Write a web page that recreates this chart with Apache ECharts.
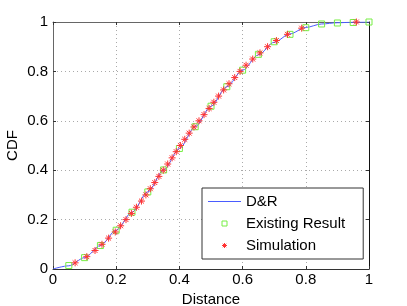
<!DOCTYPE html>
<html>
<head>
<meta charset="utf-8">
<script src="https://cdn.jsdelivr.net/npm/echarts@6/dist/echarts.min.js"></script>
<style>
html,body{margin:0;padding:0;background:#fff;}
#chart{width:407px;height:306px;}
</style>
</head>
<body>
<div id="chart"></div>
<script>
// D&R analytical curve
var drX   = [0, 0.05, 0.10, 0.15, 0.20, 0.25, 0.30, 0.35, 0.40, 0.45, 0.50, 0.55, 0.60, 0.65, 0.70, 0.75, 0.80, 0.85, 0.90, 0.95, 1.00];
var drCdf = [0, 0.013, 0.046, 0.095, 0.157, 0.230, 0.312, 0.400, 0.488, 0.576, 0.659, 0.738, 0.805, 0.867, 0.918, 0.952, 0.978, 0.992, 0.997, 0.999, 1.000];
// Existing Result (green squares)
var existingX   = [0.05, 0.10, 0.15, 0.20, 0.25, 0.30, 0.35, 0.40, 0.45, 0.50, 0.55, 0.60, 0.65, 0.70, 0.75, 0.80, 0.85, 0.90, 0.95, 1.00];
var existingCdf = [0.014, 0.046, 0.095, 0.157, 0.230, 0.312, 0.401, 0.488, 0.576, 0.659, 0.738, 0.805, 0.869, 0.920, 0.950, 0.977, 0.992, 0.996, 0.998, 1.000];
// Simulation (red asterisks)
var simX   = [0.070, 0.107, 0.133, 0.155, 0.176, 0.197, 0.214, 0.231, 0.248, 0.264, 0.280, 0.294, 0.308, 0.322, 0.335, 0.349, 0.363, 0.377, 0.390, 0.403, 0.417, 0.431, 0.446, 0.462, 0.478, 0.494, 0.509, 0.524, 0.540, 0.557, 0.575, 0.592, 0.611, 0.632, 0.655, 0.679, 0.707, 0.742, 0.787, 0.960];
var simCdf = [0.025, 0.050, 0.075, 0.100, 0.125, 0.150, 0.175, 0.200, 0.225, 0.250, 0.275, 0.300, 0.325, 0.350, 0.375, 0.400, 0.425, 0.450, 0.475, 0.500, 0.525, 0.550, 0.575, 0.600, 0.625, 0.650, 0.675, 0.700, 0.725, 0.750, 0.775, 0.800, 0.825, 0.850, 0.875, 0.900, 0.925, 0.950, 0.975, 1.000];
var tickValues = [0, 0.2, 0.4, 0.6, 0.8, 1];

function zip(a, b) { return a.map(function (v, i) { return [v, b[i]]; }); }

var FONT = 'Liberation Sans';
var axisColor = '#333';
var lineBlue = '#4a5cff';
var green = '#77ee44';
var red = '#ff3333';
var STAR = 'path://M0,-1L0,1M-1,0L1,0M-0.7,-0.7L0.7,0.7M-0.7,0.7L0.7,-0.7';
var SQUARE = 'path://M0,0L10,0L10,10L0,10Z';
var LINEICON = 'path://M0,0L33,0L33,1L0,1Z';
var gridLine = { show: true, lineStyle: { color: '#aaaaaa', type: [1, 3], width: 1 } };
function fmt(v) { var r = Math.round(v * 10) / 10; return tickValues.indexOf(r) >= 0 ? String(r) : ''; }

var chart = echarts.init(document.getElementById('chart'), null, { renderer: 'canvas' });
chart.setOption({
  animation: false,
  backgroundColor: '#fff',
  textStyle: { fontFamily: FONT },
  grid: { left: 53, right: 38, top: 22, bottom: 37, containLabel: false, outerBoundsMode: 'none' },
  xAxis: [{
    type: 'value', min: 0, max: 1, interval: 0.2,
    name: 'Distance', nameLocation: 'middle', nameGap: 14,
    nameTextStyle: { fontFamily: FONT, fontSize: 15, color: '#000' },
    axisLine: { show: true, onZero: false, lineStyle: { color: axisColor, width: 1 } },
    axisTick: { show: true, inside: true, length: 3, lineStyle: { color: axisColor } },
    axisLabel: { fontFamily: FONT, fontSize: 15, color: '#000', margin: 3, formatter: fmt },
    splitLine: gridLine
  }, {
    type: 'value', min: 0, max: 1, interval: 0.2, position: 'top',
    axisLine: { show: true, onZero: false, lineStyle: { color: '#666', width: 1 } },
    axisTick: { show: true, inside: true, length: 3, lineStyle: { color: axisColor } },
    axisLabel: { show: false }, splitLine: { show: false }
  }],
  yAxis: [{
    type: 'value', min: 0, max: 1, interval: 0.2,
    name: 'CDF', nameLocation: 'middle', nameGap: 33, nameRotate: 90, nameMoveOverlap: false,
    nameTextStyle: { fontFamily: FONT, fontSize: 15, color: '#000' },
    axisLine: { show: true, onZero: false, lineStyle: { color: '#666', width: 1 } },
    axisTick: { show: true, inside: true, length: 3, lineStyle: { color: axisColor } },
    axisLabel: { fontFamily: FONT, fontSize: 15, color: '#000', margin: 5, formatter: fmt },
    splitLine: gridLine
  }, {
    type: 'value', min: 0, max: 1, interval: 0.2, position: 'right',
    axisLine: { show: true, onZero: false, lineStyle: { color: '#111', width: 1 } },
    axisTick: { show: true, inside: true, length: 3, lineStyle: { color: axisColor } },
    axisLabel: { show: false }, splitLine: { show: false }
  }],
  legend: {
    orient: 'vertical', left: 202, top: 188,
    backgroundColor: '#fff', borderColor: '#333', borderWidth: 1, borderRadius: 0,
    padding: [6, 18, 6, 6], itemGap: 7, itemWidth: 33, itemHeight: 5,
    symbolKeepAspect: true,
    textStyle: { fontFamily: FONT, fontSize: 15, color: '#000' },
    data: [
      { name: 'D&R', icon: LINEICON, itemStyle: { color: lineBlue, borderWidth: 0 } },
      { name: 'Existing Result', icon: SQUARE, itemStyle: { color: 'rgba(255,255,255,0)', borderColor: green, borderWidth: 1 } },
      { name: 'Simulation', icon: STAR, itemStyle: { color: 'rgba(255,0,0,0)', borderColor: red, borderWidth: 1 } }
    ]
  },
  series: [{
    name: 'D&R', type: 'line', xAxisIndex: 0, yAxisIndex: 0,
    data: zip(drX, drCdf), smooth: 0.3, smoothMonotone: 'x',
    showSymbol: false, symbol: 'none',
    lineStyle: { color: lineBlue, width: 1 }, itemStyle: { color: lineBlue }, z: 2
  }, {
    name: 'Existing Result', type: 'scatter', xAxisIndex: 0, yAxisIndex: 0,
    data: zip(existingX, existingCdf), symbol: 'rect', symbolSize: 6,
    itemStyle: { color: 'rgba(255,255,255,0)', borderColor: green, borderWidth: 1, opacity: 1 }, z: 3
  }, {
    name: 'Simulation', type: 'scatter', xAxisIndex: 0, yAxisIndex: 0,
    data: zip(simX, simCdf),
    symbol: STAR, symbolSize: 7,
    itemStyle: { color: 'rgba(255,0,0,0)', borderColor: red, borderWidth: 1, opacity: 1 }, z: 4
  }]
});
</script>
</body>
</html>
